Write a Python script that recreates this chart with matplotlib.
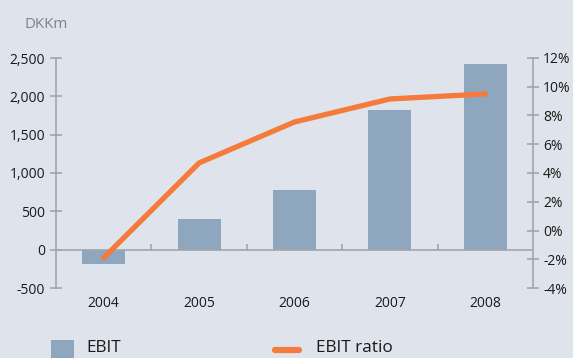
import matplotlib
matplotlib.use("Agg")
import matplotlib.pyplot as plt
from matplotlib.patches import Rectangle
from matplotlib.lines import Line2D

years = ["2004", "2005", "2006", "2007", "2008"]
ebit = [-190, 400, 780, 1820, 2420]
ebit_ratio = [-1.9, 4.7, 7.55, 9.15, 9.5]
left_ticks = [-500, 0, 500, 1000, 1500, 2000, 2500]
right_ticks = [-4, -2, 0, 2, 4, 6, 8, 10, 12]

BG = "#dfe4ec"
BAR = "#8fa6bf"
LINE = "#f47b3b"
AX = "#a3a5a8"
TXT = "#1a1a1a"

plt.rcParams['font.family'] = ['Open Sans', 'DejaVu Sans']
W, H = 573, 358
fig = plt.figure(figsize=(W / 100, H / 100), dpi=100, facecolor=BG)
ax = fig.add_axes([56 / W, (H - 288) / H, (533 - 56) / W, (288 - 58) / H])
ax.set_facecolor(BG)
ax2 = ax.twinx()

x = list(range(len(years)))
ax.bar(x, ebit, width=0.45, color=BAR, zorder=2)
ax.set_xlim(-0.5, len(years) - 0.5)
ax.set_ylim(-500, 2500)
ax.axhline(0, color=AX, lw=1.2, zorder=3)
ax.vlines([i + 0.5 for i in range(len(years) - 1)], 0, 80, color=AX, lw=1.2, zorder=3)

ax2.plot(x, ebit_ratio, color=LINE, lw=3.8, solid_capstyle='round', zorder=4)
ax2.set_ylim(-4, 12)

for s in ['top', 'bottom', 'right']:
    ax.spines[s].set_visible(False)
for s in ['top', 'bottom', 'left']:
    ax2.spines[s].set_visible(False)
ax.spines['left'].set_color(AX)
ax.spines['left'].set_linewidth(1.2)
ax2.spines['right'].set_color(AX)
ax2.spines['right'].set_linewidth(1.2)

ax.set_yticks(left_ticks)
ax.set_yticklabels([f"{v:,}" for v in left_ticks])
ax.tick_params(axis='y', direction='inout', length=8.5, width=1.2, color=AX,
               labelsize=10, labelcolor=TXT, pad=3.5)
ax.set_xticks(x)
ax.set_xticklabels(years)
ax.tick_params(axis='x', length=0, labelsize=10, labelcolor=TXT, pad=6)

ax2.set_yticks(right_ticks)
ax2.set_yticklabels([f"{v}%" for v in right_ticks])
ax2.tick_params(axis='y', direction='inout', length=8.5, width=1.2, color=AX,
                labelsize=10, labelcolor=TXT, pad=3)

ax.set_zorder(1)
ax2.set_zorder(2)
ax2.patch.set_visible(False)

fig.text(25 / W, 1 - 24 / H, "DKKm", fontsize=10.8, color="#808285", va='center', ha='left')

# legend
fig.patches.append(Rectangle((51 / W, 0), 23 / W, 18 / H, transform=fig.transFigure,
                             facecolor=BAR, edgecolor='none'))
fig.text(86 / W, 1 - 348.5 / H, "EBIT", fontsize=12.4, color=TXT, va='center', ha='left')
fig.lines.append(Line2D([275 / W, 299 / W], [1 - 350 / H, 1 - 350 / H], transform=fig.transFigure,
                        color=LINE, lw=4.5, solid_capstyle='round'))
fig.text(316 / W, 1 - 348.5 / H, "EBIT ratio", fontsize=12.4, color=TXT, va='center', ha='left')

fig.savefig("out.png", dpi=100, facecolor=BG)
